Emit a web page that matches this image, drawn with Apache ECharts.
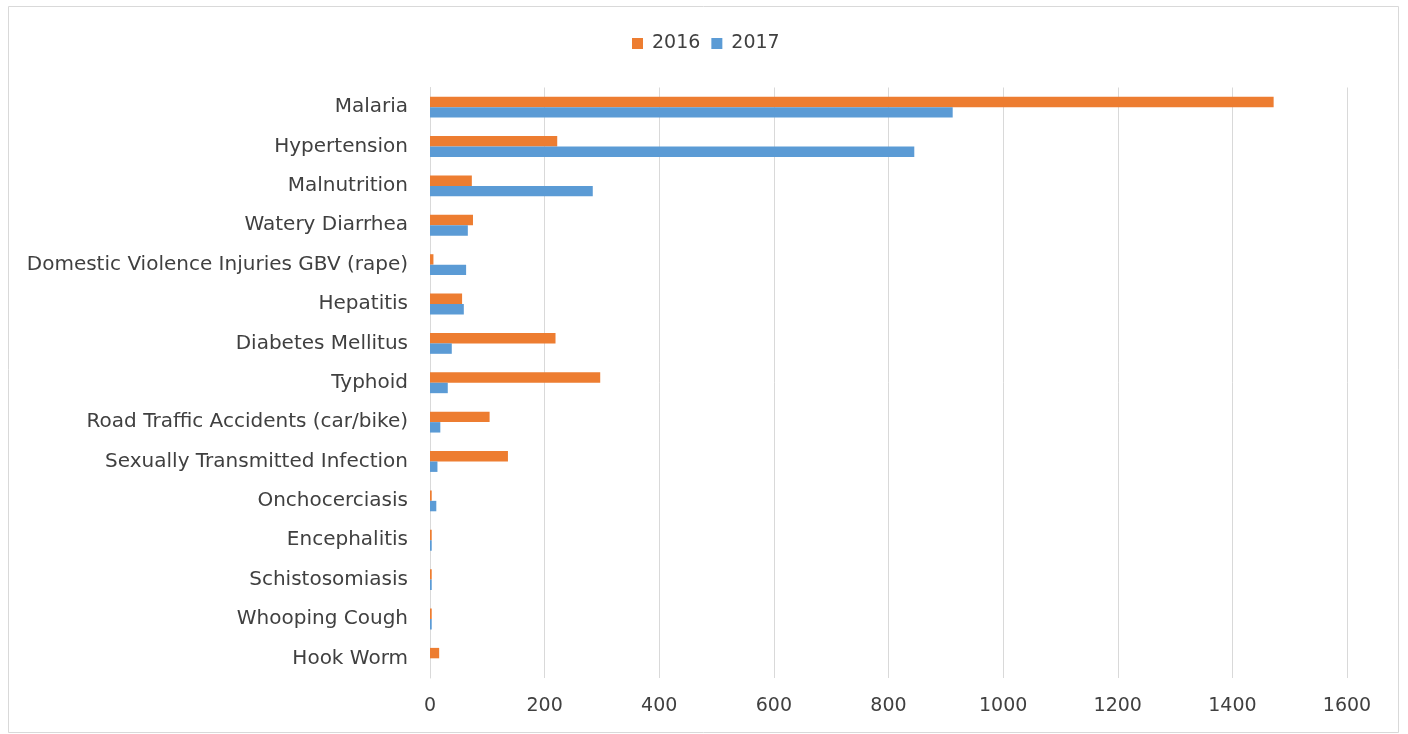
<!DOCTYPE html>
<html>
<head>
<meta charset="utf-8">
<script src="https://cdn.jsdelivr.net/npm/echarts@6/dist/echarts.min.js"></script>
<style>
html,body{margin:0;padding:0;background:#fff;}
#chart{width:1408px;height:734px;}
</style>
</head>
<body>
<div id="chart"></div>
<script>
const categories = ["Malaria","Hypertension","Malnutrition","Watery Diarrhea","Domestic Violence Injuries GBV (rape)","Hepatitis","Diabetes Mellitus","Typhoid","Road Traffic Accidents (car/bike)","Sexually Transmitted Infection","Onchocerciasis","Encephalitis","Schistosomiasis","Whooping Cough","Hook Worm"];
const values2016 = [1472,222,73,75,6,56,219,297,104,136,3,3,3,3,16];
const values2017 = [912,845,284,66,63,59,38,31,18,13,11,3,3,3,0];
const xTicks = [0,200,400,600,800,1000,1200,1400,1600];

const FONT = "DejaVu Sans";
const chart = echarts.init(document.getElementById('chart'), null, {renderer:'canvas'});
chart.setOption({
  animation:false,
  backgroundColor:'#ffffff',
  textStyle:{fontFamily:FONT},
  graphic:[{type:'rect',shape:{x:8.5,y:6.5,width:1390,height:726},style:{fill:'none',stroke:'#D9D9D9',lineWidth:1},silent:true}],
  legend:{
    top:29,left:627,
    itemWidth:11,itemHeight:11,itemGap:11,
    icon:'rect',
    textStyle:{fontFamily:FONT,fontSize:19,color:'#404040',padding:[0,0,0,4]},
    data:['2016','2017']
  },
  grid:{left:430,right:61,top:87.5,bottom:56,containLabel:false},
  xAxis:{
    type:'value',min:xTicks[0],max:xTicks[xTicks.length-1],interval:200,
    axisLine:{show:false},axisTick:{show:false},
    splitLine:{show:true,lineStyle:{color:'#D9D9D9',width:1}},
    axisLabel:{fontFamily:FONT,fontSize:19,color:'#404040',margin:19,formatter:function(v){return String(v);}}
  },
  yAxis:{
    type:'category',data:categories,inverse:true,
    axisLine:{show:true,lineStyle:{color:'#D9D9D9',width:1}},
    axisTick:{show:false},
    axisLabel:{fontFamily:FONT,fontSize:20,color:'#404040',margin:22,padding:[3,0,0,0]}
  },
  series:[
    {name:'2016',type:'bar',data:values2016,itemStyle:{color:'#ED7D31'},barGap:'0%',barCategoryGap:'47%'},
    {name:'2017',type:'bar',data:values2017,itemStyle:{color:'#5B9BD5'},barGap:'0%',barCategoryGap:'47%'}
  ]
});
</script>
</body>
</html>
